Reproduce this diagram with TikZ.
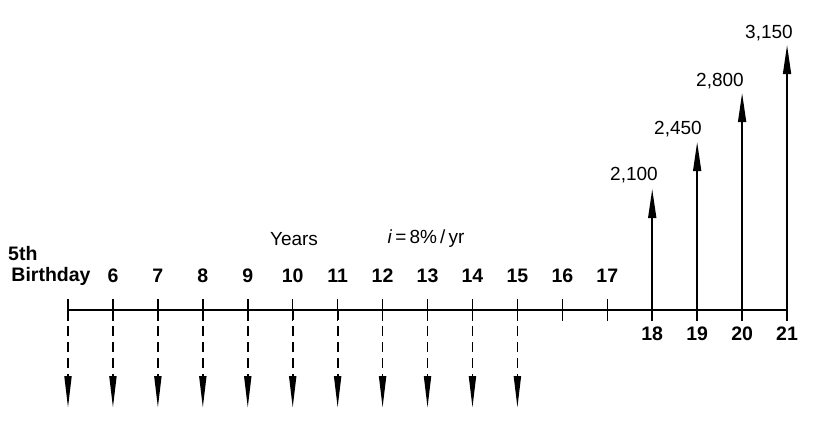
\documentclass[tikz,border=0pt]{standalone}
\usepackage{fontspec}
\setmainfont{Liberation Sans}
\usetikzlibrary{arrows.meta}
\begin{document}
\begin{tikzpicture}[x=1pt,y=-1pt,
  yr/.style={font=\fontsize{19.5}{22}\selectfont\bfseries, inner sep=0pt},
  val/.style={font=\fontsize{19}{22}\selectfont, inner sep=0pt},
  axisline/.style={line width=1.5pt},
  tickline/.style={line width=1.5pt},
  uparrow/.style={line width=1.5pt, -{Triangle[length=29pt,width=8pt]}},
  downarrow/.style={line width=1.8pt, dash pattern=on 10pt off 6pt, -{Triangle[length=32pt,width=7pt]}}]
\useasboundingbox (0,0) rectangle (829,428);
% tick coordinates
\foreach \k in {5,...,21}{
  \pgfmathsetmacro{\xx}{68+44.94*(\k-5)}
  \coordinate (t\k) at (\xx,310);
  \coordinate (a\k) at (\xx,299);
  \coordinate (b\k) at (\xx,321);
  \coordinate (d\k) at (\xx,408);
}
\draw[axisline] (t5) -- (t21);
\foreach \k in {5,...,17}{ \draw[tickline] (a\k) -- (b\k); }
\foreach \k in {18,...,21}{ \draw[tickline] (t\k) -- (b\k); }
% downward dashed arrows
\foreach \k in {5,...,15}{ \draw[downarrow] (t\k) -- (d\k); }
% upward arrows
\path (t18) ++(0,-121) coordinate (u18);
\path (t19) ++(0,-168) coordinate (u19);
\path (t20) ++(0,-217) coordinate (u20);
\path (t21) ++(0,-265) coordinate (u21);
\foreach \k in {18,...,21}{ \draw[uparrow] (t\k) -- (u\k); }
% values
\node[val] (v18) at (634,175) {2,100};
\node[val] (v19) at (678,129) {2,450};
\node[val] (v20) at (720,81) {2,800};
\node[val] (v21) at (769,33) {3,150};
% year labels
\foreach \k in {6,...,17}{
  \path (t\k) ++(0,-34) node[yr] (l\k) {\k};
}
\foreach \k in {18,...,21}{
  \path (t\k) ++(0,24) node[yr] (l\k) {\k};
}
\node[yr, anchor=west] (fifth) at (8,254) {5th};
\node[yr] (bday) at (51,276) {Birthday};
\node[val] (years) at (294,239) {Years};
\node[val] (rate) at (426,239) {\textit{i}\,=\,8\%\,/\,yr};
\end{tikzpicture}
\end{document}
